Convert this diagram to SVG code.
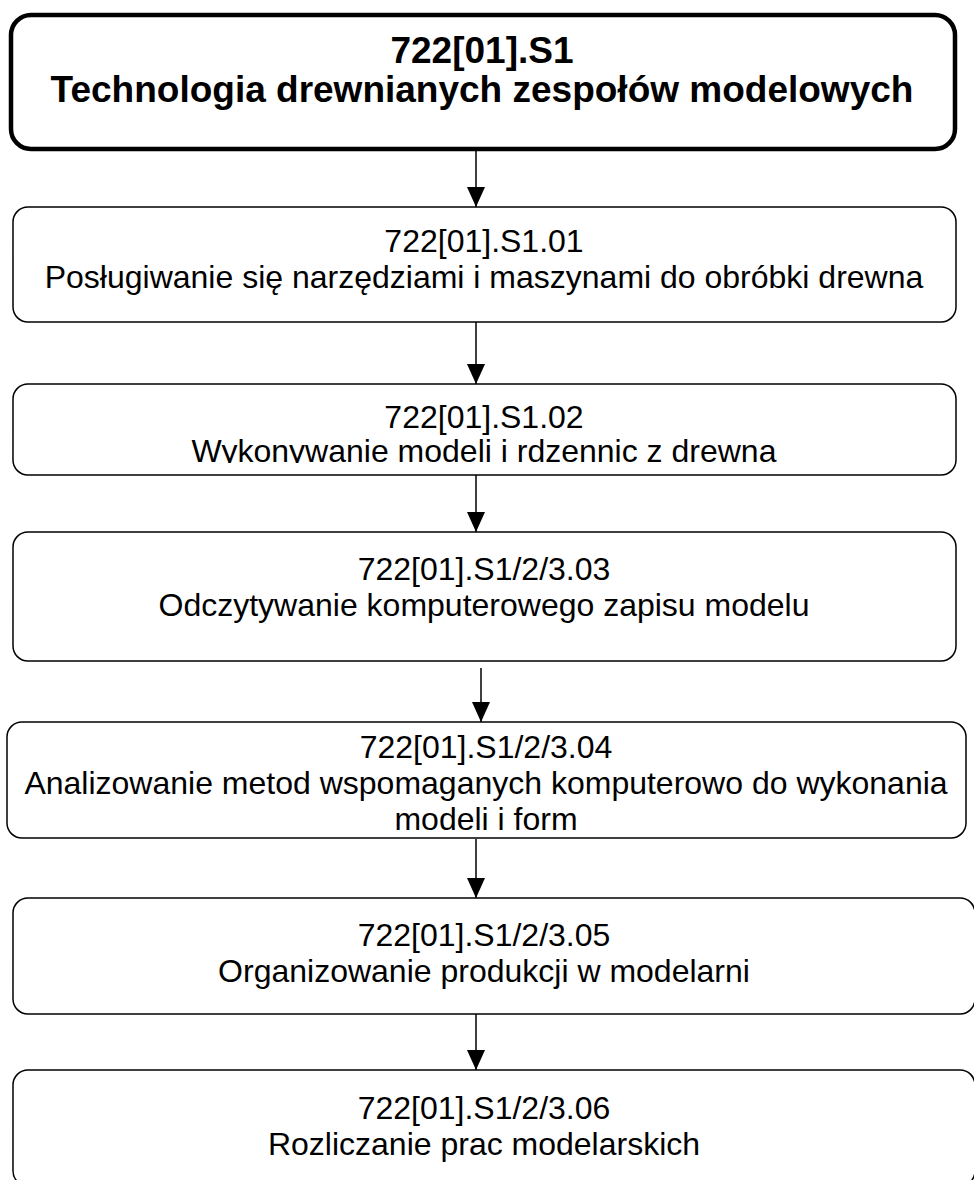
<svg xmlns="http://www.w3.org/2000/svg" width="974" height="1180" viewBox="0 0 974 1180">
<style>
.box{fill:#fff;stroke:#000;stroke-width:1.5}
.main{fill:#fff;stroke:#000;stroke-width:4.5}
.t{font-family:"Liberation Sans",Arial,sans-serif;font-size:32px;fill:#000;text-anchor:middle}
.tb{font-family:"Liberation Sans",Arial,sans-serif;font-size:37px;font-weight:bold;fill:#000;text-anchor:middle}
.c{stroke:#000;stroke-width:1.5;fill:none;marker-end:url(#ah)}
</style>
<defs>
<marker id="ah" markerUnits="userSpaceOnUse" markerWidth="20" markerHeight="20" refX="20" refY="9" orient="auto" viewBox="0 0 20 18">
<path d="M0,0 L20,9 L0,18 z" fill="#000"/>
</marker>
<clipPath id="clip2"><rect x="0" y="380" width="974" height="83"/></clipPath>
</defs>
<rect width="974" height="1180" fill="#fff"/>
<g id="connectors">
<line class="c" x1="476" y1="151" x2="476" y2="207"/>
<line class="c" x1="476" y1="322" x2="476" y2="384"/>
<line class="c" x1="476" y1="475" x2="476" y2="532"/>
<line class="c" x1="481" y1="668" x2="481" y2="722"/>
<line class="c" x1="476" y1="839" x2="476" y2="898"/>
<line class="c" x1="476" y1="1014" x2="476" y2="1070"/>
</g>
<g id="n0">
<rect class="main" x="11" y="15" width="944" height="134" rx="20"/>
<text class="tb" x="482" y="63">722[01].S1</text>
<text class="tb" x="482" y="102">Technologia drewnianych zespołów modelowych</text>
</g>
<g id="n1">
<rect class="box" x="13" y="207" width="943" height="115" rx="15"/>
<text class="t" x="484" y="252">722[01].S1.01</text>
<text class="t" x="484" y="288">Posługiwanie się narzędziami i maszynami do obróbki drewna</text>
</g>
<g id="n2">
<rect class="box" x="13" y="384" width="943" height="91" rx="15"/>
<g clip-path="url(#clip2)">
<text class="t" x="484" y="428">722[01].S1.02</text>
<text class="t" x="484" y="462">Wykonywanie modeli i rdzennic z drewna</text>
</g>
</g>
<g id="n3">
<rect class="box" x="13" y="532" width="943" height="129" rx="15"/>
<text class="t" x="484" y="580">722[01].S1/2/3.03</text>
<text class="t" x="484" y="616">Odczytywanie komputerowego zapisu modelu</text>
</g>
<g id="n4">
<rect class="box" x="7" y="722" width="959" height="116" rx="15"/>
<text class="t" x="486" y="758">722[01].S1/2/3.04</text>
<text class="t" x="486" y="794">Analizowanie metod wspomaganych komputerowo do wykonania</text>
<text class="t" x="486" y="830">modeli i form</text>
</g>
<g id="n5">
<rect class="box" x="13" y="898" width="962" height="116" rx="15"/>
<text class="t" x="484" y="946">722[01].S1/2/3.05</text>
<text class="t" x="484" y="982">Organizowanie produkcji w modelarni</text>
</g>
<g id="n6">
<rect class="box" x="13" y="1070" width="962" height="116" rx="15"/>
<text class="t" x="484" y="1119">722[01].S1/2/3.06</text>
<text class="t" x="484" y="1155">Rozliczanie prac modelarskich</text>
</g>
</svg>
